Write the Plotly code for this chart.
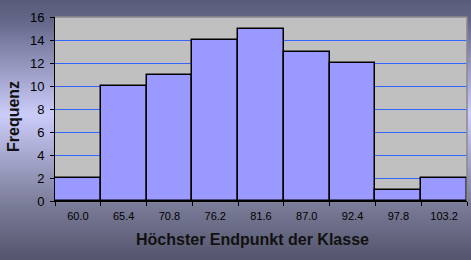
import plotly.graph_objects as go

categories = ["60.0", "65.4", "70.8", "76.2", "81.6", "87.0", "92.4", "97.8", "103.2"]
frequencies = [2, 10, 11, 14, 15, 13, 12, 1, 2]
y_ticks = [0, 2, 4, 6, 8, 10, 12, 14, 16]
x_title = "Höchster Endpunkt der Klasse"
y_title = "Frequenz"

W, H = 471, 260
L, R, T, B = 55, 4, 17, 59
PH = H - T - B

FONT = "Liberation Sans, Arial, sans-serif"

fig = go.Figure()
fig.add_trace(go.Bar(
    x=categories, y=frequencies,
    marker=dict(color="#9999ff", line=dict(color="black", width=1.5)),
))

# vertical background gradient (dark -> light -> dark)
stops = [(0, (90, 92, 122)), (20, (100, 102, 136)), (115, (204, 204, 250)),
         (205, (122, 124, 152)), (260, (84, 85, 108))]

def col_at(py):
    for (a, ca), (b, cb) in zip(stops, stops[1:]):
        if a <= py <= b:
            t = (py - a) / (b - a)
            return tuple(round(ca[i] + (cb[i] - ca[i]) * t) for i in range(3))
    return stops[-1][1]

shapes = []
step = 2
for py in range(0, H, step):
    c = col_at(py + step / 2)
    y0 = (T + PH - (py + step)) / PH
    y1 = (T + PH - py) / PH
    shapes.append(dict(type="rect", xref="paper", yref="paper",
                       x0=-L / (W - L - R) - 0.05, x1=1 + R / (W - L - R) + 0.05,
                       y0=y0, y1=y1 + 0.002, fillcolor="rgb(%d,%d,%d)" % c,
                       line=dict(width=0), layer="below"))
# plot area
shapes.append(dict(type="rect", xref="paper", yref="paper", x0=0, x1=1, y0=0, y1=1,
                   fillcolor="#c0c0c0", line=dict(width=0), layer="below"))
# gray border top/right
shapes.append(dict(type="line", xref="paper", yref="paper", x0=0, x1=1, y0=1, y1=1,
                   line=dict(color="#8a8a8a", width=1.5), layer="above"))
shapes.append(dict(type="line", xref="paper", yref="paper", x0=1, x1=1, y0=0, y1=1,
                   line=dict(color="#8a8a8a", width=1.5), layer="above"))

fig.update_layout(
    width=W, height=H,
    margin=dict(l=L, r=R, t=T, b=B),
    paper_bgcolor="#6a6c8a",
    plot_bgcolor="#c0c0c0",
    bargap=0,
    showlegend=False,
    shapes=shapes,
    font=dict(family=FONT, color="black"),
    annotations=[
        dict(text="<b>%s</b>" % x_title, xref="paper", yref="paper",
             x=(252.5 - L) / (W - L - R), y=(T + PH - 239) / PH,
             xanchor="center", yanchor="middle", showarrow=False,
             font=dict(family=FONT, size=16, color="#111111")),
        dict(text="<b>%s</b>" % y_title, xref="paper", yref="paper",
             x=(13 - L) / (W - L - R), y=(T + PH - 117) / PH, textangle=-90,
             xanchor="center", yanchor="middle", showarrow=False,
             font=dict(family=FONT, size=16, color="#111111")),
    ],
)
fig.update_xaxes(
    type="category", tickson="boundaries", ticks="outside", ticklen=4,
    tickcolor="black", showline=True, linecolor="black", linewidth=1,
    showgrid=False, tickfont=dict(size=11, color="black"), fixedrange=True,
    ticklabelstandoff=5,
)
fig.update_yaxes(
    range=[0, 16], tickvals=y_ticks, ticks="outside", ticklen=4,
    tickcolor="black", showline=True, linecolor="black", linewidth=1,
    showgrid=True, gridcolor="#3366ff", gridwidth=1, zeroline=False,
    tickfont=dict(size=13, color="black"), fixedrange=True,
    ticklabelstandoff=3,
)

fig.write_html("out.html", config=dict(displayModeBar=False))
